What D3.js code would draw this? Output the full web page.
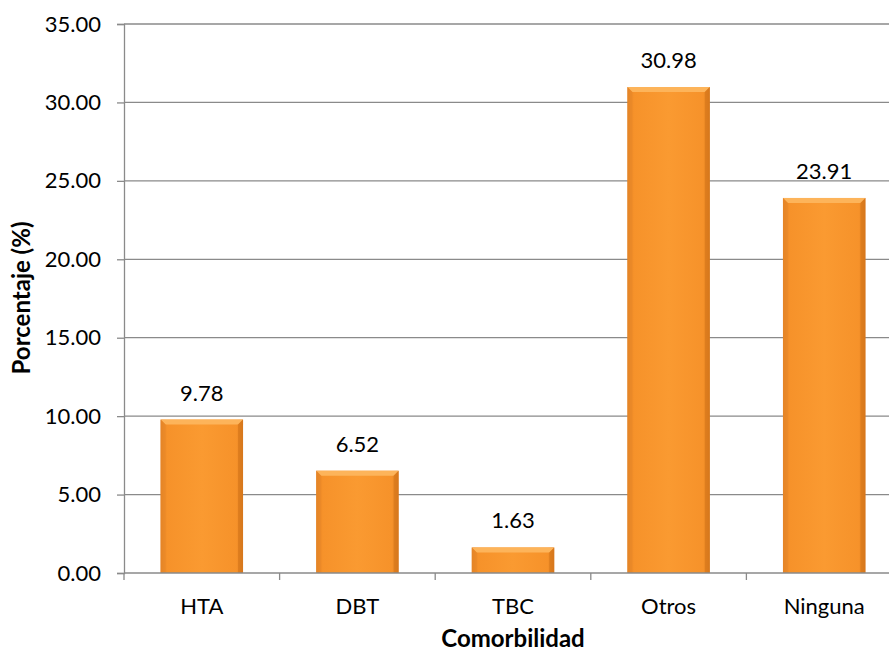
<!DOCTYPE html>
<html><head><meta charset="utf-8">
<script src="https://cdn.jsdelivr.net/npm/d3@7"></script>
<style>body{margin:0;background:#fff}svg{display:block}text{font-family:Lato,"Open Sans",sans-serif}</style>
</head><body><svg id="c" width="889" height="653"></svg>
<script>
const categories = ["HTA","DBT","TBC","Otros","Ninguna"];
const values = [9.78, 6.52, 1.63, 30.98, 23.91];
const yTicks = [0,5,10,15,20,25,30,35];

const FS = 22, FB = 24;
const svg = d3.select("#c");
const m = {l:124, t:24, b:573, r:902};
const x = d3.scaleBand().domain(categories).range([m.l, m.r]).paddingInner(0.47).paddingOuter(0.235);
const y = d3.scaleLinear().domain([0,35]).range([m.b, m.t]);

const defs = svg.append("defs");
const gH = defs.append("linearGradient").attr("id","gh").attr("x1",0).attr("x2",1).attr("y1",0).attr("y2",0);
[[0,"#E07E22"],[0.08,"#F6922A"],[0.5,"#FA9A31"],[0.92,"#F6922A"],[1,"#DD7B20"]].forEach(s=>gH.append("stop").attr("offset",s[0]).attr("stop-color",s[1]));

// gridlines
svg.append("g").selectAll("line").data(yTicks.filter(d=>d>0)).join("line")
  .attr("x1",m.l).attr("x2",m.r).attr("y1",d=>y(d)).attr("y2",d=>y(d))
  .attr("stroke","#8a8a8a").attr("stroke-width",1.3);

// bars
const bars = svg.append("g").selectAll("g").data(values).join("g");
bars.append("rect").attr("x",(d,i)=>x(categories[i])).attr("width",x.bandwidth())
  .attr("y",d=>y(d)).attr("height",d=>y(0)-y(d)).attr("fill","url(#gh)");
bars.append("path").attr("d",(d,i)=>{const x0=x(categories[i]),w=x.bandwidth(),t=y(d),b=5;
  return `M${x0},${t}L${x0+w},${t}L${x0+w-b},${t+b}L${x0+b},${t+b}Z`;}).attr("fill","#FDB45A");
bars.append("path").attr("d",(d,i)=>{const x0=x(categories[i]),w=x.bandwidth(),t=y(d),h=y(0)-y(d),b=Math.min(5,h/2);
  return `M${x0},${t}L${x0+b},${t+b}L${x0+b},${t+h}L${x0},${t+h}Z`;}).attr("fill","#E8892A").attr("opacity",0.6);
bars.append("path").attr("d",(d,i)=>{const x0=x(categories[i]),w=x.bandwidth(),t=y(d),h=y(0)-y(d),b=Math.min(5,h/2);
  return `M${x0+w},${t}L${x0+w-b},${t+b}L${x0+w-b},${t+h}L${x0+w},${t+h}Z`;}).attr("fill","#D27419").attr("opacity",0.6);

// value labels
svg.append("g").selectAll("text").data(values).join("text")
  .attr("x",(d,i)=>x(categories[i])+x.bandwidth()/2).attr("y",d=>y(d)-19)
  .attr("text-anchor","middle").attr("font-size",FS).attr("fill","#000")
  .text(d=>d.toFixed(2));

// y axis
const ya = svg.append("g").attr("transform",`translate(${m.l},0)`)
  .call(d3.axisLeft(y).tickValues(yTicks).tickFormat(d=>d.toFixed(2)).tickSize(7).tickPadding(16));
ya.select(".domain").attr("stroke","#8a8a8a").attr("stroke-width",1.3);
ya.selectAll(".tick line").attr("stroke","#8a8a8a").attr("stroke-width",1.3);
ya.selectAll("text").attr("font-size",FS).attr("fill","#000").attr("font-family","Lato,'Open Sans',sans-serif");

// x axis
const xa = svg.append("g").attr("transform",`translate(0,${m.b})`)
  .call(d3.axisBottom(x).tickSize(0).tickPadding(25));
xa.select(".domain").remove();
xa.append("line").attr("x1",m.l).attr("x2",m.r).attr("stroke","#8a8a8a").attr("stroke-width",1.3);
const bounds = categories.map(c=>x(c)-x.step()*x.paddingInner()/2).concat([m.r]);
xa.selectAll(".bt").data(bounds).join("line").attr("x1",d=>d).attr("x2",d=>d).attr("y1",0).attr("y2",7)
  .attr("stroke","#8a8a8a").attr("stroke-width",1.3);
xa.selectAll(".tick text").attr("font-size",FS).attr("fill","#000").attr("font-family","Lato,'Open Sans',sans-serif");

svg.append("text").attr("x",513).attr("y",647).attr("text-anchor","middle")
  .attr("font-size",FB).attr("font-weight","bold").text("Comorbilidad");
svg.append("text").attr("transform",`translate(30,298) rotate(-90)`).attr("text-anchor","middle")
  .attr("font-size",FB).attr("font-weight","bold").text("Porcentaje (%)");
</script></body></html>
